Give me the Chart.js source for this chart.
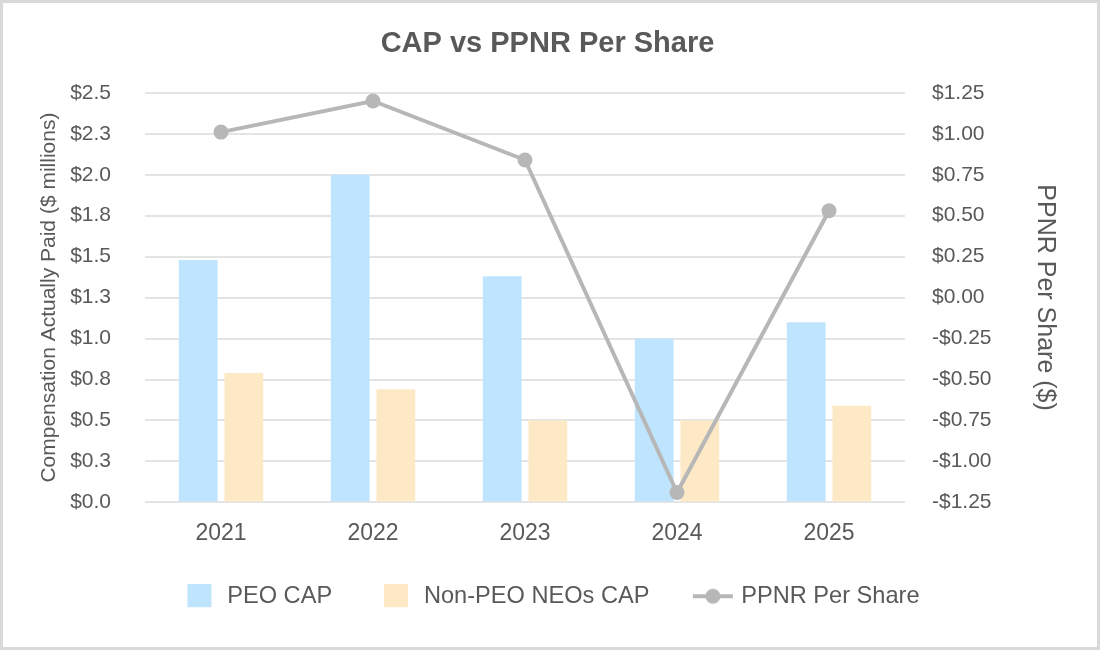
<!DOCTYPE html>
<html>
<head>
<meta charset="utf-8">
<title>CAP vs PPNR Per Share</title>
<script src="https://cdn.jsdelivr.net/npm/chart.js@4.4.1/dist/chart.umd.min.js"></script>
<style>
  html, body { margin: 0; padding: 0; background: #fff; }
  #wrap { width: 1100px; height: 650px; position: relative; }
</style>
</head>
<body>
<div id="wrap"><canvas id="chart" width="1100" height="650"></canvas></div>
<script>
// Data
const years = ["2021", "2022", "2023", "2024", "2025"];
const peoCap = [1.48, 2.0, 1.38, 1.0, 1.1];
const nonPeoCap = [0.79, 0.69, 0.5, 0.5, 0.59];
const ppnrPerShare = [1.01, 1.2, 0.84, -1.19, 0.53];

const seriesNames = ["PEO CAP", "Non-PEO NEOs CAP", "PPNR Per Share"];

const textColor = "#595959";
const gridColor = "#e4e4e4";
const peoColor = "#bfe4fd";
const nonPeoColor = "#fde9c5";
const lineColor = "#b7b7b7";
const fontFamily = "'Liberation Sans', Arial, sans-serif";

// Legend symbols as small canvases
function boxSymbol(color) {
    const c = document.createElement("canvas");
    c.width = 40;
    c.height = 24;
    const g = c.getContext("2d");
    g.fillStyle = color;
    g.fillRect(12, 0, 24, 23);
    return c;
}

function lineSymbol(color) {
    const c = document.createElement("canvas");
    c.width = 49;
    c.height = 18;
    const g = c.getContext("2d");
    g.strokeStyle = color;
    g.lineWidth = 4;
    g.beginPath();
    g.moveTo(8, 9);
    g.lineTo(48, 9);
    g.stroke();
    g.fillStyle = color;
    g.beginPath();
    g.arc(28, 9, 7.5, 0, Math.PI * 2);
    g.fill();
    return c;
}

const legendSymbols = [boxSymbol(peoColor), boxSymbol(nonPeoColor), lineSymbol(lineColor)];

// Light grey frame around the whole picture
const framePlugin = {
    id: "frame",
    afterDraw(chart) {
        const ctx = chart.ctx;
        ctx.save();
        ctx.strokeStyle = "#d9d9d9";
        ctx.lineWidth = 3;
        ctx.strokeRect(1.5, 1.5, chart.width - 3, chart.height - 3);
        ctx.restore();
    },
};

function moneyLeft(v) {
    return "$" + v.toFixed(1);
}

function moneyRight(v) {
    const a = Math.abs(v).toFixed(2);
    return (v < -1e-9 ? "-$" : "$") + a;
}

const ctx = document.getElementById("chart").getContext("2d");
new Chart(ctx, {
    data: {
        labels: years,
        datasets: [
            {
                type: "line",
                label: seriesNames[2],
                data: ppnrPerShare,
                yAxisID: "y1",
                borderColor: lineColor,
                backgroundColor: lineColor,
                borderWidth: 4,
                pointRadius: 7.5,
                pointHoverRadius: 7.5,
                pointBorderWidth: 0,
                tension: 0,
                order: 0,
            },
            {
                type: "bar",
                label: seriesNames[0],
                data: peoCap,
                yAxisID: "y",
                backgroundColor: peoColor,
                categoryPercentage: 0.6,
                barPercentage: 0.85,
                order: 1,
            },
            {
                type: "bar",
                label: seriesNames[1],
                data: nonPeoCap,
                yAxisID: "y",
                backgroundColor: nonPeoColor,
                categoryPercentage: 0.6,
                barPercentage: 0.85,
                order: 1,
            },
        ],
    },
    options: {
        responsive: false,
        animation: false,
        layout: { padding: { top: 10, left: 25, right: 30, bottom: 32 } },
        plugins: {
            title: {
                display: true,
                text: "CAP vs PPNR Per Share",
                color: textColor,
                font: { family: fontFamily, size: 29, weight: "bold" },
                padding: { top: 17, bottom: 31 },
            },
            legend: {
                position: "bottom",
                labels: {
                    color: textColor,
                    font: { family: fontFamily, size: 23.6 },
                    usePointStyle: true,
                    pointStyleWidth: 40,
                    padding: 40,
                    generateLabels() {
                        return seriesNames.map((name, i) => ({
                            text: name,
                            pointStyle: legendSymbols[i],
                            fillStyle: "transparent",
                            strokeStyle: "transparent",
                            lineWidth: 0,
                            fontColor: textColor,
                            datasetIndex: i === 2 ? 0 : i + 1,
                        }));
                    },
                },
            },
            tooltip: { enabled: false },
        },
        scales: {
            x: {
                grid: { display: false, drawTicks: false },
                border: { display: false },
                ticks: {
                    color: textColor,
                    font: { family: fontFamily, size: 23 },
                    padding: 17,
                },
                afterFit(scale) {
                    scale.height = 42;
                },
            },
            y: {
                position: "left",
                min: 0,
                max: 2.5,
                grid: { color: gridColor, lineWidth: 2, drawTicks: false },
                border: { display: false },
                ticks: {
                    stepSize: 0.25,
                    color: textColor,
                    font: { family: fontFamily, size: 21 },
                    padding: 34,
                    callback: moneyLeft,
                },
                title: {
                    display: true,
                    text: "Compensation Actually Paid ($ millions)",
                    color: textColor,
                    font: { family: fontFamily, size: 21 },
                    padding: { top: 12, bottom: 0 },
                },
                afterFit(scale) {
                    scale.width = 120;
                },
            },
            y1: {
                position: "right",
                min: -1.25,
                max: 1.25,
                grid: { drawOnChartArea: false, drawTicks: false },
                border: { display: false },
                ticks: {
                    stepSize: 0.25,
                    color: textColor,
                    font: { family: fontFamily, size: 21 },
                    padding: 27,
                    callback: moneyRight,
                },
                title: {
                    display: true,
                    text: "PPNR Per Share ($)",
                    color: textColor,
                    font: { family: fontFamily, size: 25 },
                    padding: { top: 10, bottom: 0 },
                },
                afterFit(scale) {
                    scale.width = 165;
                },
            },
        },
    },
    plugins: [framePlugin],
});
</script>
</body>
</html>
